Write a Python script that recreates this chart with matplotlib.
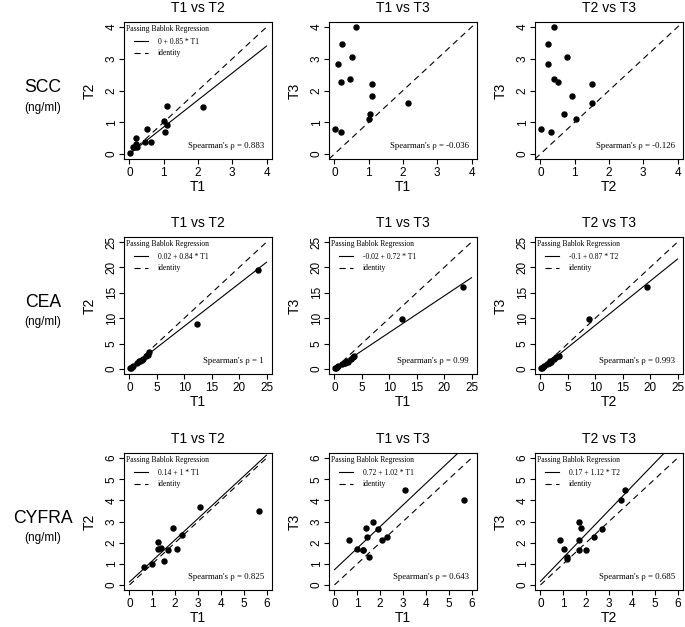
import numpy as np
import matplotlib
matplotlib.use('Agg')
import matplotlib.pyplot as plt
from matplotlib.lines import Line2D

plt.rcParams['font.family'] = ['Liberation Sans', 'DejaVu Sans']

markers = ['SCC', 'CEA', 'CYFRA']
pairs = [('T1', 'T2'), ('T1', 'T3'), ('T2', 'T3')]

scc_t1 = [0.02, 0.10, 0.17, 0.19, 0.20, 0.21, 0.46, 0.51, 0.63, 1.00, 1.03, 1.10, 1.10, 2.15]
scc_t2 = [0.02, 0.21, 0.21, 0.50, 0.31, 0.21, 0.38, 0.78, 0.38, 1.04, 0.68, 1.51, 0.92, 1.49]
scc_t3 = [0.80, 2.84, np.nan, 2.27, 0.70, 3.48, 2.35, 3.07, 3.99, 1.11, 1.26, 2.20, 1.83, 1.60]

cea_t1 = [0.1, 0.3, 0.5, 0.7, 1.4, 1.7, 2.0, 2.2, 2.4, 3.1, 3.4, 3.6, 12.3, 23.4]
cea_t2 = [0.1, 0.2, 0.4, 0.6, 1.2, 1.5, 1.6, 1.8, 2.0, 2.5, 2.8, 3.3, 8.9, 19.4]
cea_t3 = [0.1, 0.2, 0.3, 0.5, 0.9, 1.1, 1.2, 1.5, 1.3, 2.0, 2.3, 2.5, 9.8, 16.2]

cyfra_t1 = [0.63, 0.97, 1.50, 3.08, 5.69, 1.89, 2.08, 1.24, 1.67, 1.24, 1.38, 2.28, 1.43, np.nan]
cyfra_t2 = [0.87, 1.01, 1.14, 3.70, 3.51, 2.69, 1.69, 1.69, 1.67, 2.01, 1.77, 2.35, np.nan, 1.17]
cyfra_t3 = [2.11, 1.70, 1.30, 4.48, 4.01, 2.66, 2.12, 1.66, 2.98, 1.66, 2.70, 2.25, 2.29, 1.23]

axis_max = [4, 25, 6]
tick_step = [1, 5, 1]

# Passing-Bablok fits (intercept, slope); None where no fit is shown
scc_fit = [(0, 0.85), None, None]
cea_fit = [(0.02, 0.84), (-0.02, 0.72), (-0.1, 0.87)]
cyfra_fit = [(0.14, 1), (0.72, 1.02), (0.17, 1.12)]

scc_rho = [0.883, -0.036, -0.126]
cea_rho = [1, 0.99, 0.993]
cyfra_rho = [0.825, 0.643, 0.685]

data = [
    {'T1': scc_t1, 'T2': scc_t2, 'T3': scc_t3},
    {'T1': cea_t1, 'T2': cea_t2, 'T3': cea_t3},
    {'T1': cyfra_t1, 'T2': cyfra_t2, 'T3': cyfra_t3},
]
fits = [scc_fit, cea_fit, cyfra_fit]
rhos = [scc_rho, cea_rho, cyfra_rho]

# Layout in pixels
W, H = 685, 627
col_left = [124, 329, 535]
row_top = [22, 237, 453]
bw, bh = 148, 137
serif = ['Liberation Serif', 'DejaVu Serif']
dash = (5.5, 4)

fig = plt.figure(figsize=(W / 100, H / 100), dpi=100)

for r, name in enumerate(markers):
    top = row_top[r]
    # row label
    fig.text(43 / W, 1 - (top + bh / 2 - 3) / H, name, fontsize=12.7,
             ha='center', va='center')
    fig.text(43 / W, 1 - (top + bh / 2 + 17) / H, '(ng/ml)', fontsize=8.5,
             ha='center', va='center')

    m = axis_max[r]
    for c, (xn, yn) in enumerate(pairs):
        ax = fig.add_axes([col_left[c] / W, 1 - (top + bh) / H, bw / W, bh / H])
        x = np.array(data[r][xn], dtype=float)
        y = np.array(data[r][yn], dtype=float)
        ax.plot(x, y, 'o', color='black', ms=3.6, mec='black', zorder=3)

        lim = (-0.04 * m, 1.04 * m)
        ax.set_xlim(lim)
        ax.set_ylim(lim)
        ticks = np.arange(0, m + tick_step[r] / 2, tick_step[r])
        ax.set_xticks(ticks)
        ax.set_yticks(ticks)
        ax.set_xticklabels([f'{t:g}' for t in ticks])
        ax.set_yticklabels([f'{t:g}' for t in ticks], rotation=90, va='center')
        ax.tick_params(direction='out', length=3.6, width=0.8, labelsize=8.5,
                       pad=2.5, color='black')
        ax.tick_params(axis='y', pad=1)
        for s in ax.spines.values():
            s.set_linewidth(0.8)

        xs = np.array([0, m])
        fit = fits[r][c]
        if fit is not None:
            a, b = fit
            ax.plot(xs, a + b * xs, color='black', lw=0.8)
            ax.plot(xs, xs, color='black', lw=0.8, dashes=dash)
            ax.text(2 / bw, 1 - 3 / bh, 'Passing Bablok Regression', transform=ax.transAxes,
                    fontsize=5.5, family=serif, ha='left', va='top')
            handles = [Line2D([], [], color='black', lw=0.8),
                       Line2D([], [], color='black', lw=0.8, dashes=dash)]
            labels = [f'{a:g} + {b:g} * {xn}', 'identity']
            ax.legend(handles, labels, loc='upper left',
                      bbox_to_anchor=(10 / bw, 1 - 16 / bh), frameon=False,
                      prop={'family': serif, 'size': 5.5}, borderpad=0,
                      borderaxespad=0, handlelength=1.85, handletextpad=1.3,
                      labelspacing=0.45)
        else:
            ax.axline((0, 0), slope=1, color='black', lw=0.8, dashes=dash)

        ax.text(1 - 8 / bw, 13 / bh, f"Spearman's \u03c1 = {rhos[r][c]:g}",
                transform=ax.transAxes, fontsize=6.3, family=serif,
                ha='right', va='center')

        ax.set_title(f'{xn} vs {yn}', fontsize=10, pad=7)
        ax.set_xlabel(xn, fontsize=10)
        ax.set_ylabel(yn, fontsize=10)
        ax.xaxis.set_label_coords(0.5, -21 / bh)
        ax.yaxis.set_label_coords(-27 / bw, 0.5)

fig.savefig('out.png', dpi=100)
